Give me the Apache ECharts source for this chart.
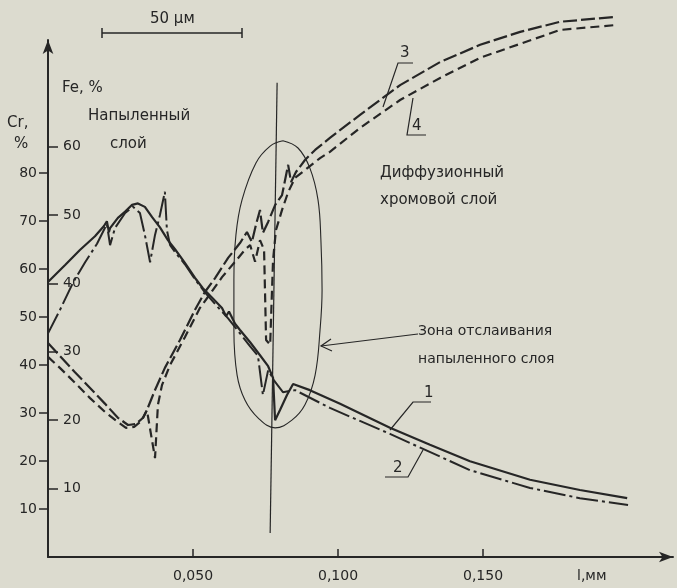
<!DOCTYPE html>
<html>
<head>
<meta charset="utf-8">
<script src="https://cdn.jsdelivr.net/npm/echarts@6/dist/echarts.min.js"></script>
<style>
  html, body { margin: 0; padding: 0; background: #dcdbcf; }
  #chart { width: 677px; height: 588px; }
</style>
</head>
<body>
<div id="chart"></div>
<script>
// tick labels
const crTicks = [10, 20, 30, 40, 50, 60, 70, 80]
const feTicks = [10, 20, 30, 40, 50, 60]
const lTicks = [0.05, 0.1, 0.15]

// [L, mm ; Fe, %]  line 1 (solid) and 2 (dash-dot)
const line1Fe = [
  [0, 40.2], [0.0059, 42.7], [0.0110, 44.9], [0.0162, 46.9], [0.0193, 48.4], [0.0203, 49.1],
  [0.0210, 47.5], [0.0214, 48.1], [0.0241, 49.6], [0.0266, 50.5], [0.0290, 51.5], [0.0310, 51.7],
  [0.0334, 51.2], [0.0359, 49.7], [0.0386, 48.2], [0.0414, 46.3], [0.0438, 45.0], [0.0472, 43.0],
  [0.0507, 40.8], [0.0534, 39.3], [0.0566, 37.9], [0.0600, 36.4], [0.0614, 35.2], [0.0624, 35.9],
  [0.0645, 34.1], [0.0662, 33.2], [0.0697, 31.4], [0.0731, 29.5], [0.0759, 27.9], [0.0776, 26.2],
  [0.0783, 20.0], [0.0800, 21.5], [0.0824, 23.7], [0.0845, 25.3], [0.0903, 24.4], [0.1007, 22.4],
  [0.1179, 18.9], [0.1317, 16.4], [0.1455, 14.0], [0.1662, 11.3], [0.1834, 9.8], [0.1997, 8.6]
]
const line2Fe = [
  [0, 32.7], [0.0041, 36.1], [0.0086, 40.1], [0.0128, 43.1], [0.0169, 45.8], [0.0203, 48.7],
  [0.0214, 45.6], [0.0231, 48.1], [0.0266, 50.3], [0.0293, 51.2], [0.0317, 50.3], [0.0334, 47.1],
  [0.0352, 43.1], [0.0369, 47.1], [0.0386, 50.0], [0.0403, 53.4], [0.0410, 47.8], [0.0421, 45.6],
  [0.0438, 44.6], [0.0472, 42.8], [0.0507, 40.6], [0.0541, 38.7], [0.0576, 37.0], [0.0621, 34.9],
  [0.0662, 32.7], [0.0697, 30.8], [0.0724, 29.4], [0.0741, 23.7], [0.0759, 27.3], [0.0783, 25.6],
  [0.0810, 24.1], [0.0852, 24.4], [0.0972, 21.8], [0.1179, 18.0], [0.1455, 12.7], [0.1662, 10.1],
  [0.1834, 8.6], [0.2000, 7.6]
]

// [L, mm ; Cr, %]  line 3 (long dash) and 4 (dash)
const line3Cr = [
  [0, 44.6], [0.0041, 41.9], [0.0093, 38.5], [0.0145, 35.2], [0.0197, 31.9], [0.0241, 29.0],
  [0.0276, 27.5], [0.0303, 27.7], [0.0328, 29.0], [0.0341, 30.6], [0.0369, 34.8], [0.0403, 39.4],
  [0.0455, 45.2], [0.0507, 51.5], [0.0541, 55.2], [0.0576, 58.1], [0.0621, 62.3], [0.0662, 65.4],
  [0.0686, 67.7], [0.0703, 65.6], [0.0717, 69.2], [0.0731, 72.3], [0.0741, 67.5], [0.0759, 69.8],
  [0.0783, 73.3], [0.0807, 75.4], [0.0828, 81.7], [0.0838, 78.1], [0.0855, 80.2], [0.0886, 82.7],
  [0.0921, 84.8], [0.0972, 87.3], [0.1076, 92.1], [0.1214, 98.3], [0.1352, 103.1], [0.1490, 106.7],
  [0.1628, 109.4], [0.1766, 111.5], [0.1955, 112.5]
]
const line4Cr = [
  [0, 41.7], [0.0041, 39.4], [0.0093, 36.3], [0.0145, 33.1], [0.0197, 30.2], [0.0241, 28.1],
  [0.0269, 26.9], [0.0297, 27.1], [0.0321, 28.3], [0.0341, 30.6], [0.0369, 20.6], [0.0379, 31.7],
  [0.0393, 35.8], [0.0421, 40.0], [0.0472, 45.8], [0.0524, 51.9], [0.0559, 54.8], [0.0600, 58.3],
  [0.0645, 61.5], [0.0679, 64.0], [0.0697, 65.0], [0.0714, 61.5], [0.0731, 66.0], [0.0745, 64.0],
  [0.0752, 45.2], [0.0766, 44.2], [0.0776, 61.9], [0.0786, 68.1], [0.0807, 72.3], [0.0828, 76.0],
  [0.0852, 79.0], [0.0886, 80.6], [0.0938, 83.1], [0.0972, 84.4], [0.1076, 89.4], [0.1214, 95.2],
  [0.1352, 99.8], [0.1490, 104.0], [0.1628, 106.9], [0.1766, 109.8], [0.1955, 110.8]
]

// boundary of the sprayed layer and the delamination zone outline, in L / Cr units
const boundaryLine = [[0.0790, 98.8], [0.0766, 5.0]]
const zoneOutline = [
  [0.0810, 86.7], [0.0862, 85.2], [0.0903, 81.0], [0.0931, 74.4], [0.0941, 66.0], [0.0945, 55.6],
  [0.0938, 47.3], [0.0921, 37.9], [0.0886, 31.7], [0.0841, 28.5], [0.0783, 26.9], [0.0724, 29.0],
  [0.0679, 32.7], [0.0652, 37.9], [0.0641, 47.3], [0.0641, 57.7], [0.0648, 67.1], [0.0669, 74.4],
  [0.0717, 82.1], [0.0766, 85.6], [0.0810, 86.7]
]

const ink = '#262626'
const font = 'DejaVu Sans'

function txt(x, y, s, size) {
  return {
    type: 'text', left: x, top: y,
    style: { text: s, fill: ink, font: (size || 15) + 'px "' + font + '"' }
  }
}
function poly(points, w) {
  return {
    type: 'polyline',
    shape: { points: points },
    style: { stroke: ink, lineWidth: w || 1.2, fill: null }
  }
}

const chart = echarts.init(document.getElementById('chart'))

const option = {
  backgroundColor: '#dcdbcf',
  animation: false,
  grid: { left: 48, right: 4, top: 40, bottom: 31 },
  xAxis: {
    type: 'value',
    min: 0,
    max: 0.2155,
    axisLine: {
      show: true,
      symbol: ['none', 'arrow'],
      symbolSize: [8, 14],
      lineStyle: { color: ink, width: 2 }
    },
    axisTick: { show: true, inside: true, length: 8, customValues: lTicks, lineStyle: { color: ink, width: 1.5 } },
    axisLabel: {
      customValues: lTicks,
      margin: 12,
      color: ink,
      fontFamily: font,
      fontSize: 14,
      formatter: v => v.toFixed(3).replace('.', ',')
    },
    splitLine: { show: false }
  },
  yAxis: [
    {
      type: 'value',
      min: 0,
      max: 107.7,
      axisLine: {
        show: true,
        symbol: ['none', 'arrow'],
        symbolSize: [8, 14],
        lineStyle: { color: ink, width: 2 }
      },
      axisTick: { show: true, length: 9, customValues: crTicks, lineStyle: { color: ink, width: 1.5 } },
      axisLabel: { customValues: crTicks, margin: 11, color: ink, fontFamily: font, fontSize: 14 },
      splitLine: { show: false }
    },
    {
      type: 'value',
      position: 'left',
      offset: 0,
      min: 0,
      max: 75.6,
      axisLine: { show: false },
      axisTick: { show: true, inside: true, length: 10, customValues: feTicks, lineStyle: { color: ink, width: 1.5 } },
      axisLabel: { inside: true, customValues: feTicks, margin: 15, color: ink, fontFamily: font, fontSize: 14 },
      splitLine: { show: false }
    }
  ],
  series: [
    {
      name: '1', type: 'line', yAxisIndex: 1, data: line1Fe, showSymbol: false, clip: false,
      lineStyle: { color: ink, width: 2.2 }
    },
    {
      name: '2', type: 'line', yAxisIndex: 1, data: line2Fe, showSymbol: false, clip: false,
      lineStyle: { color: ink, width: 2, type: [22, 4, 3, 4] }
    },
    {
      name: '3', type: 'line', yAxisIndex: 0, data: line3Cr, showSymbol: false, clip: false,
      lineStyle: { color: ink, width: 2.2, type: [14, 4] }
    },
    {
      name: '4', type: 'line', yAxisIndex: 0, data: line4Cr, showSymbol: false, clip: false,
      lineStyle: { color: ink, width: 2.2, type: [9, 5] }
    },
    {
      name: 'boundary', type: 'line', yAxisIndex: 0, data: boundaryLine, showSymbol: false, clip: false,
      lineStyle: { color: ink, width: 1.2 }
    },
    {
      name: 'zone', type: 'line', yAxisIndex: 0, data: zoneOutline, showSymbol: false, clip: false,
      smooth: 0.4,
      lineStyle: { color: ink, width: 1.1 }
    }
  ],
  graphic: [
    txt(150, 12, '50 μм', 15),
    poly([[102, 33], [242, 33]], 1.5),
    poly([[102, 28], [102, 38]], 1.5),
    poly([[242, 28], [242, 38]], 1.5),
    txt(62, 81, 'Fe, %', 15),
    txt(7, 116, 'Cr,', 15),
    txt(14, 137, '%', 15),
    txt(88, 109, 'Напыленный', 15),
    txt(110, 137, 'слой', 15),
    txt(380, 166, 'Диффузионный', 15),
    txt(380, 193, 'хромовой слой', 15),
    txt(418, 324, 'Зона отслаивания', 14),
    txt(418, 352, 'напыленного слоя', 14),
    txt(400, 46, '3', 15),
    poly([[413, 63], [398, 63], [383, 107]]),
    txt(412, 119, '4', 15),
    poly([[426, 135], [407, 135], [413, 98]]),
    txt(424, 386, '1', 15),
    poly([[431, 402], [413, 402], [390, 430]]),
    txt(393, 461, '2', 15),
    poly([[385, 477], [408, 477], [423, 450]]),
    poly([[418, 334], [321, 346]]),
    poly([[331, 339], [321, 346], [332, 351]]),
    txt(577, 569, 'l,мм', 14)
  ]
}

chart.setOption(option)
</script>
</body>
</html>
